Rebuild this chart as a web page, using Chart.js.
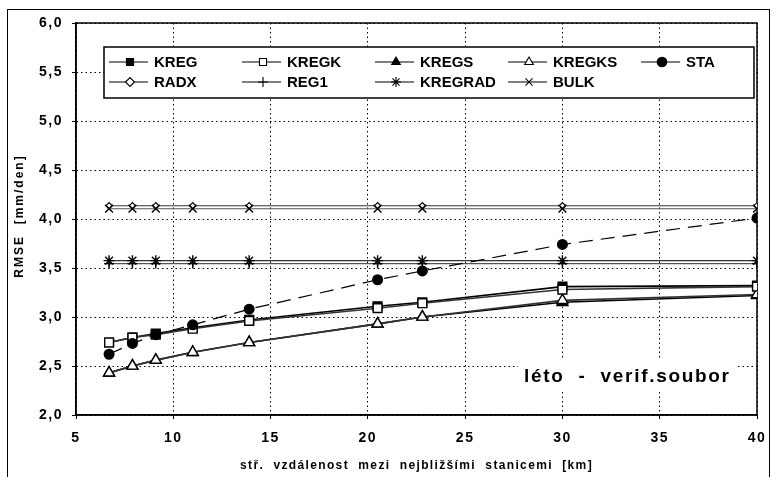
<!DOCTYPE html>
<html>
<head>
<meta charset="utf-8">
<script src="https://cdn.jsdelivr.net/npm/chart.js@4/dist/chart.umd.min.js"></script>
<style>
  body { margin: 0; background: #fff; }
</style>
</head>
<body>
<canvas id="drawChart" width="772" height="477"></canvas>
<script>
// distance between nearest stations [km]
var xValues = [6.7, 7.9, 9.1, 11.0, 13.9, 20.5, 22.8, 30.0, 40.0];

var kreg    = [2.74, 2.79, 2.83, 2.89, 2.97, 3.11, 3.15, 3.31, 3.32];
var kregk   = [2.74, 2.79, 2.82, 2.88, 2.96, 3.09, 3.14, 3.28, 3.31];
var kregs   = [2.43, 2.50, 2.56, 2.64, 2.74, 2.93, 3.00, 3.15, 3.22];
var kregks  = [2.43, 2.50, 2.56, 2.64, 2.74, 2.93, 3.00, 3.17, 3.23];
var sta     = [2.62, 2.73, 2.82, 2.92, 3.08, 3.38, 3.47, 3.74, 4.01];
var radx    = [4.135, 4.135, 4.135, 4.135, 4.135, 4.135, 4.135, 4.135, 4.135];
var bulk    = [4.105, 4.105, 4.105, 4.105, 4.105, 4.105, 4.105, 4.105, 4.105];
var kregrad = [3.575, 3.575, 3.575, 3.575, 3.575, 3.575, 3.575, 3.575, 3.575];
var reg1    = [3.545, 3.545, 3.545, 3.545, 3.545, 3.545, 3.545, 3.545, 3.545];

var yTicks = [2.0, 2.5, 3.0, 3.5, 4.0, 4.5, 5.0, 5.5, 6.0];
var xTicks = [5, 10, 15, 20, 25, 30, 35, 40];

function pts(arr) {
	return arr.map(function (v, i) { return {x: xValues[i], y: v}; });
}

function series(label, values, style, fill, radius, order, extra) {
	var ds = {
		label : label,
		data : pts(values),
		borderColor : '#000',
		borderWidth : 1.6,
		pointStyle : style,
		pointRadius : radius,
		pointBorderWidth : 1.4,
		pointBorderColor : '#000',
		pointBackgroundColor : fill,
		fill : false,
		tension : 0,
		order : order
	};
	for (var k in extra) ds[k] = extra[k];
	return ds;
}

var datasets = [
	series('KREG', kreg, 'rect', '#000', 6.2, 2, {}),
	series('KREGK', kregk, 'rect', '#fff', 6.2, 1, {borderColor : '#333'}),
	series('KREGS', kregs, 'triangle', '#000', 6.3, 4, {}),
	series('KREGKS', kregks, 'triangle', '#fff', 6.3, 3, {borderColor : '#333'}),
	series('STA', sta, 'circle', '#000', 4.8, 0, {borderDash : [14, 8], borderWidth : 1.2}),
	series('RADX', radx, 'rectRot', '#fff', 3.2, 6, {borderColor : '#333', borderWidth : 1.1, pointBorderWidth : 1.1}),
	series('REG1', reg1, 'cross', '#fff', 5, 8, {borderColor : '#555', borderWidth : 1.1}),
	series('KREGRAD', kregrad, 'star', '#fff', 5.5, 7, {borderColor : '#333', borderWidth : 1.1}),
	series('BULK', bulk, 'crossRot', '#fff', 5.5, 5, {borderColor : '#555', borderWidth : 1.1})
];

var FONT = '"Liberation Sans", Arial, sans-serif';

var extrasPlugin = {
	id : 'extras',
	beforeDraw : function (chart) {
		chart.ctx.letterSpacing = '1.5px';
	},
	beforeDatasetsDraw : function (chart) {
		var ctx = chart.ctx, a = chart.chartArea;
		ctx.save();
		// white box behind the season label
		ctx.fillStyle = '#fff';
		ctx.fillRect(518, 358, 220, 32);
		ctx.strokeStyle = '#000';
		ctx.lineWidth = 1.5;
		ctx.strokeRect(a.left, a.top, a.right - a.left, a.bottom - a.top);
		ctx.restore();
	},
	afterDraw : function (chart) {
		var ctx = chart.ctx, a = chart.chartArea;
		ctx.save();
		ctx.letterSpacing = '0px';
		// outer frame
		ctx.strokeStyle = '#000';
		ctx.lineWidth = 1;
		ctx.strokeRect(7.5, 9.5, 762, 480);

		// legend box
		var bx = 104, by = 47, bw = 650, bh = 51;
		ctx.fillStyle = '#fff';
		ctx.fillRect(bx, by, bw, bh);
		ctx.lineWidth = 1.5;
		ctx.strokeRect(bx, by, bw, bh);
		var order = ['KREG', 'KREGK', 'KREGS', 'KREGKS', 'STA', 'RADX', 'REG1', 'KREGRAD', 'BULK'];
		ctx.font = 'bold 15px ' + FONT;
		ctx.textBaseline = 'middle';
		order.forEach(function (name, i) {
			var ds = chart.data.datasets.filter(function (d) { return d.label === name; })[0];
			var col = i % 5, row = Math.floor(i / 5);
			var tx = 154 + col * 133, y0 = 62 + row * 20;
			ctx.strokeStyle = '#000';
			ctx.lineWidth = 1.2;
			ctx.setLineDash([]);
			ctx.beginPath();
			ctx.moveTo(tx - 45, y0);
			ctx.lineTo(tx - 6, y0);
			ctx.stroke();
			ctx.fillStyle = ds.pointBackgroundColor;
			ctx.strokeStyle = '#000';
			ctx.lineWidth = 1.1;
			Chart.helpers.drawPoint(ctx, {
				pointStyle : ds.pointStyle,
				radius : ds.pointStyle === 'rectRot' ? 4.5 : Math.min(ds.pointRadius, 5),
				borderWidth : 1.1,
				rotation : 0
			}, tx - 24, y0);
			ctx.fillStyle = '#000';
			ctx.textAlign = 'left';
			ctx.fillText(name, tx, y0 + 1);
		});

		// annotation
		ctx.fillStyle = '#000';
		ctx.font = 'bold 19px ' + FONT;
		ctx.textAlign = 'left';
		ctx.textBaseline = 'alphabetic';
		ctx.letterSpacing = '1.7px';
		ctx.fillText('léto  -  verif.soubor', 524, 382);

		// axis titles
		ctx.font = 'bold 12px ' + FONT;
		ctx.letterSpacing = '1.35px';
		ctx.textAlign = 'center';
		ctx.textBaseline = 'middle';
		ctx.fillText('stř.  vzdálenost  mezi  nejbližšími  stanicemi  [km]', (a.left + a.right) / 2, 466);
		ctx.translate(20, 216);
		ctx.rotate(-Math.PI / 2);
		ctx.font = 'bold 12px ' + FONT;
		ctx.letterSpacing = '2px';
		ctx.fillText('RMSE  [mm/den]', 0, 0);
		ctx.restore();
		ctx.letterSpacing = '0px';
	}
};

var ctx = document.getElementById('drawChart').getContext('2d');
var drawChart = new Chart(ctx, {
	type : 'line',
	data : { datasets : datasets },
	options : {
		responsive : false,
		animation : false,
		devicePixelRatio : 1,
		layout : { padding : { top : 23, right : 15, left : 0, bottom : 0 } },
		plugins : { legend : { display : false }, tooltip : { enabled : false } },
		scales : {
			x : {
				type : 'linear',
				min : 5,
				max : 40,
				afterFit : function (s) { s.height = 62; s.paddingLeft = 0; s.paddingRight = 0; },
				afterBuildTicks : function (s) { s.ticks = xTicks.map(function (v) { return {value : v}; }); },
				grid : { color : '#000', lineWidth : 1, tickLength : 4 },
				border : { display : true, color : '#000', width : 1.5, dash : [1.5, 3] },
				ticks : {
					color : '#000',
					padding : 11,
					maxRotation : 0,
					font : { family : FONT, size : 14, weight : 'bold' },
					callback : function (v) { return String(v); }
				}
			},
			y : {
				min : 2,
				max : 6,
				afterFit : function (s) { s.width = 76; s.paddingTop = 0; s.paddingBottom = 0; },
				afterBuildTicks : function (s) { s.ticks = yTicks.map(function (v) { return {value : v}; }); },
				grid : { color : '#000', lineWidth : 1, tickLength : 4 },
				border : { display : true, color : '#000', width : 1.5, dash : [1.5, 3] },
				ticks : {
					color : '#000',
					padding : 9,
					font : { family : FONT, size : 14, weight : 'bold' },
					callback : function (v) { return v.toFixed(1).replace('.', ','); }
				}
			}
		}
	},
	plugins : [extrasPlugin]
});
</script>
</body>
</html>
